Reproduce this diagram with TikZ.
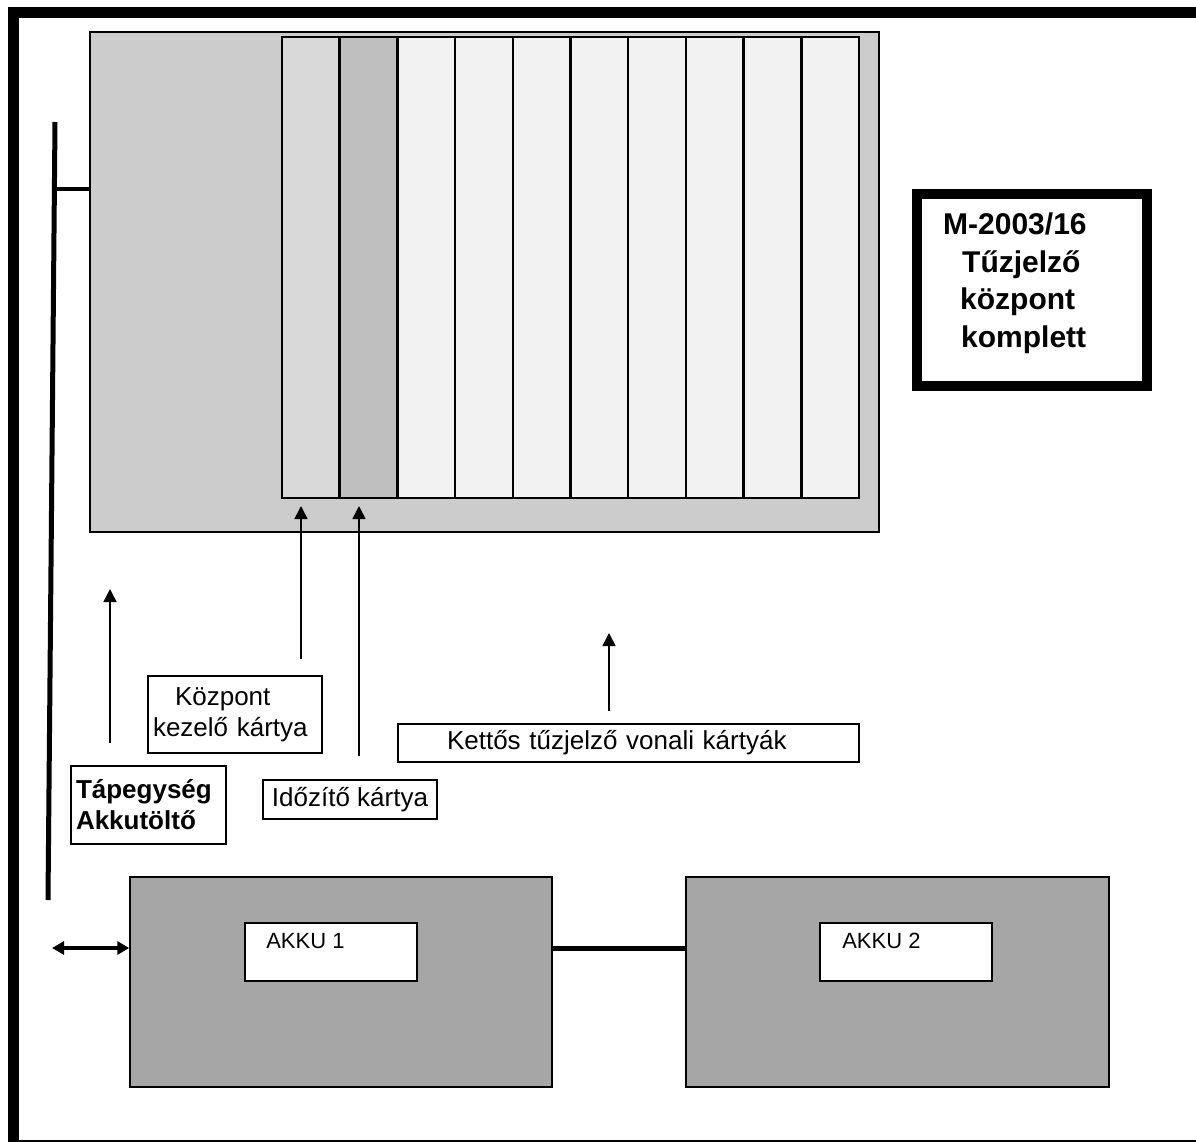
\documentclass[tikz,border=0pt]{standalone}
\usepackage{fontspec}
\setmainfont{Liberation Sans}
\usetikzlibrary{arrows.meta}

\newcommand\lblfont{\fontsize{26}{31}\selectfont}
\newcommand\akkufont{\fontsize{22}{26}\selectfont}

\begin{document}
\begin{tikzpicture}[x=1pt,y=-1pt,
  box/.style={draw, line width=1.8pt, inner sep=0pt, font=\lblfont},
  card/.style={draw, line width=2.5pt, minimum width=57.7, minimum height=461, inner sep=0pt},
  arr/.style={line width=1.6pt, -{Triangle[width=13pt,length=13pt]}},
  bus/.style={line width=5pt}]
  \useasboundingbox (0,0) rectangle (1196,1142);

  \definecolor{cabgray} {RGB}{204,204,204}
  \definecolor{cardA}   {RGB}{217,217,217}
  \definecolor{cardB}   {RGB}{191,191,191}
  \definecolor{cardC}   {RGB}{242,242,242}
  \definecolor{akkugray}{RGB}{166,166,166}

  % Frame
  \draw[line width=11pt] (13.5,1142) -- (13.5,12.5) -- (1197,12.5);
  \draw[line width=1.5pt] (8,1141) -- (1197,1141);

  % Cabinet and cards
  \node[draw, fill=cabgray, line width=1.5pt, minimum width=789, minimum height=500] (cab) at (484.5,282) {};
  \foreach \i/\c in {1/cardA,2/cardB,3/cardC,4/cardC,5/cardC,6/cardC,7/cardC,8/cardC,9/cardC,10/cardC}
    \node[card, fill=\c] (card\i) at ({282+57.7*(\i-0.5)},267.5) {};

  % Title
  \node[draw, line width=10pt, minimum width=230, minimum height=192] (title) at (1032,290) {};
  \node[anchor=north west, inner sep=0pt, align=left, font=\fontsize{30}{37.5}\selectfont\bfseries] (titletxt) at (943,213)
        {M-2003/16\\\hspace*{19pt}Tűzjelző\\\hspace*{17pt}központ\\\hspace*{18pt}komplett};

  % Labels
  \node[box, minimum width=174, minimum height=77, text width=164, align=left] (kozp) at (235,714.5) {\hspace*{22pt}Központ\\kezelő kártya};
  \node[box, minimum width=155, minimum height=78, text width=145, align=left, font=\lblfont\bfseries] (tap) at (148.5,805) {Tápegység\\Akkutöltő};
  \node[box, minimum width=174, minimum height=39] (idoz) at (350,799.5) {Időzítő kártya};
  \node[box, minimum width=461, minimum height=38, text width=461, align=left] (kett) at (628.5,743) {\hspace*{49pt}Kettős tűzjelző vonali kártyák};

  % Arrows
  \coordinate (tapA) at (110,743);   \coordinate (tapB) at (110,589);
  \coordinate (kozpA) at (301,659);  \coordinate (kozpB) at (301,506);
  \coordinate (idozA) at (359,756);  \coordinate (idozB) at (359,506);
  \coordinate (kettA) at (609,711);  \coordinate (kettB) at (609,633);
  \draw[arr] (tapA) -- (tapB);
  \draw[arr] (kozpA) -- (kozpB);
  \draw[arr] (idozA) -- (idozB);
  \draw[arr] (kettA) -- (kettB);

  % Bus bar
  \coordinate (bustop) at (55,122);
  \coordinate (busjoint) at (54,189);
  \coordinate (busbot) at (48,900);
  \coordinate (busend) at (52,948);
  \draw[bus] (bustop) -- (busbot);
  \draw[line width=4pt] (busjoint) -- (busjoint -| cab.west);

  % Batteries
  \node[draw, fill=akkugray, line width=1.5pt, minimum width=422, minimum height=210] (akku1) at (341,982) {};
  \node[draw, fill=akkugray, line width=1.5pt, minimum width=423, minimum height=210] (akku2) at (897.5,982) {};
  \node[draw, fill=white, line width=1.8pt, minimum width=172, minimum height=58] (akku1t) at (331,952) {};
  \node[draw, fill=white, line width=1.8pt, minimum width=172, minimum height=58] (akku2t) at (906,952) {};
  \node[anchor=base west, font=\akkufont, inner sep=0pt] (akku1l) at ([xshift=22pt,yshift=-26pt]akku1t.north west) {AKKU 1};
  \node[anchor=base west, font=\akkufont, inner sep=0pt] (akku2l) at ([xshift=23pt,yshift=-26pt]akku2t.north west) {AKKU 2};
  \draw[bus] ([yshift=34pt]akku1.east) -- ([yshift=34pt]akku2.west);
  \draw[line width=4.5pt, {Triangle[width=13pt,length=12pt]}-{Triangle[width=13pt,length=12pt]}]
    (busend) -- ([yshift=34pt]akku1.west);
\end{tikzpicture}
\end{document}
